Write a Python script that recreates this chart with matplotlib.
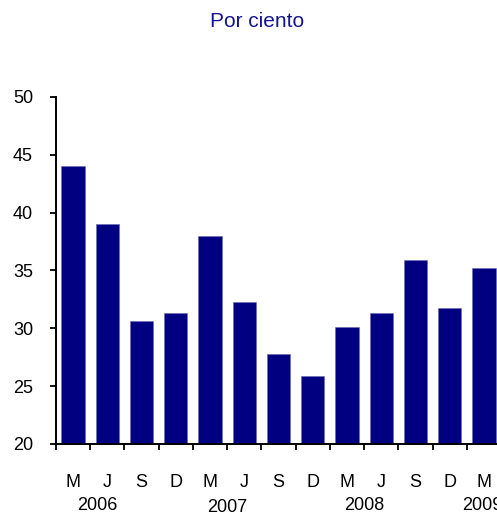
import matplotlib
matplotlib.use("Agg")
import matplotlib.pyplot as plt
import matplotlib.transforms as mtransforms
import numpy as np
from matplotlib.ticker import FixedLocator, NullFormatter

plt.rcParams['font.family'] = ['Liberation Sans', 'DejaVu Sans']

months = ["M", "J", "S", "D", "M", "J", "S", "D", "M", "J", "S", "D", "M"]
values = [44.0, 39.0, 30.6, 31.3, 38.0, 32.3, 27.8, 25.9, 30.1, 31.3, 35.9, 31.8, 35.2]
years = ["2006", "2007", "2008", "2009"]
year_pos = [1.2, 5.0, 9.0, 12.45]
year_dy = [66, 68.5, 66, 66]
yticks = [20, 25, 30, 35, 40, 45, 50]

W, H = 497, 512
PX = 72 / 100  # points per pixel
fig = plt.figure(figsize=(W / 100, H / 100), dpi=100)
ax = fig.add_axes([56 / W, 68 / H, 445 / W, 347 / H])

x = np.arange(len(values)) + 0.5
ax.bar(x, np.array(values) - 20, bottom=20, width=0.68, color="#000080",
       edgecolor="#6a6ab0", linewidth=0.4, clip_on=False)

ax.set_xlim(0, 13)
ax.set_ylim(20, 50)
ax.set_yticks(yticks)
ax.set_yticklabels([str(v) for v in yticks], fontsize=13)
ax.xaxis.set_major_locator(FixedLocator(np.arange(0, 14)))
ax.xaxis.set_major_formatter(NullFormatter())
ax.tick_params(axis="x", which="major", length=4, direction="out", width=1.3)
ax.tick_params(axis="y", length=4, direction="out", width=1.3, pad=12.5)

for s in ["top", "right"]:
    ax.spines[s].set_visible(False)
ax.spines["left"].set_linewidth(1.4)
ax.spines["bottom"].set_linewidth(1.4)

base = ax.get_xaxis_transform()
for m, xi in zip(months, x):
    tr = mtransforms.offset_copy(base, fig=fig, x=0, y=-43 * PX, units="points")
    ax.text(xi, 0, m, transform=tr, ha="center", va="baseline", fontsize=13,
            clip_on=False)

for lab, pos, dy in zip(years, year_pos, year_dy):
    tr = mtransforms.offset_copy(base, fig=fig, x=0, y=-dy * PX, units="points")
    ax.text(pos, 0, lab, transform=tr, ha="center", va="baseline", fontsize=13,
            clip_on=False)

fig.text(257 / W, 1 - 27 / H, "Por ciento", ha="center", va="baseline",
         fontsize=15, color="#141490")

fig.savefig("out.png", dpi=100)
